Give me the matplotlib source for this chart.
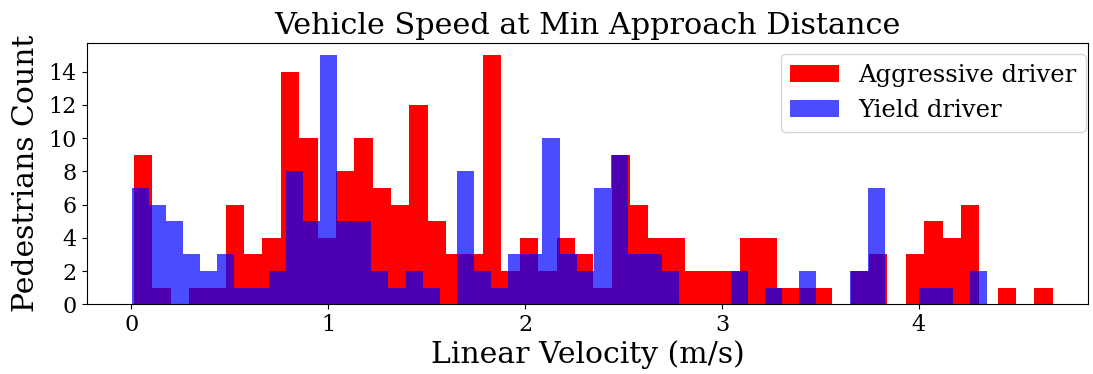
import numpy as np
import matplotlib
matplotlib.use("Agg")
import matplotlib.pyplot as plt

plt.rcParams['font.family'] = 'DejaVu Serif'

# histogram counts (50 bins each)
aggressive_counts = [9, 1, 0, 1, 1, 6, 3, 4, 14, 10,
                     4, 8, 10, 7, 6, 12, 5, 3, 3, 15,
                     2, 4, 2, 4, 3, 1, 9, 6, 4, 4,
                     2, 2, 2, 4, 4, 1, 1, 1, 0, 2,
                     3, 0, 3, 5, 4, 6, 0, 1, 0, 1]
yield_counts = [7, 6, 5, 3, 2, 3, 1, 1, 2, 8,
                5, 15, 5, 5, 2, 1, 2, 1, 0, 8,
                2, 1, 3, 3, 10, 3, 2, 7, 9, 3,
                3, 2, 0, 0, 0, 2, 0, 1, 0, 2,
                0, 0, 2, 7, 0, 0, 1, 1, 0, 2]

# data range of each series (m/s)
aggressive_range = (0.013, 4.680)
yield_range = (0.003, 4.347)

agg_edges = np.linspace(*aggressive_range, len(aggressive_counts) + 1)
yld_edges = np.linspace(*yield_range, len(yield_counts) + 1)

fig = plt.figure(figsize=(10.93, 3.74), dpi=100)
ax = fig.add_axes([0.0793, 0.1864, 0.9164, 0.6994])

ax.bar(agg_edges[:-1], aggressive_counts, width=np.diff(agg_edges), align='edge',
       color='red', label='Aggressive driver')
ax.bar(yld_edges[:-1], yield_counts, width=np.diff(yld_edges), align='edge',
       color='blue', alpha=0.7, label='Yield driver')

ax.set_xlim(-0.226, 4.86)
ax.set_ylim(0, 15.75)
ax.set_yticks(range(0, 15, 2))
ax.tick_params(labelsize=16)

ax.set_title('Vehicle Speed at Min Approach Distance', fontsize=21.8, pad=6)
ax.set_xlabel('Linear Velocity (m/s)', fontsize=21.5, labelpad=3)
ax.set_ylabel('Pedestrians Count', fontsize=21.5, labelpad=6)
ax.legend(loc='upper right', bbox_to_anchor=(0.998, 0.957), borderaxespad=0,
          fontsize=17.5)

fig.savefig('out.png', dpi=100)
